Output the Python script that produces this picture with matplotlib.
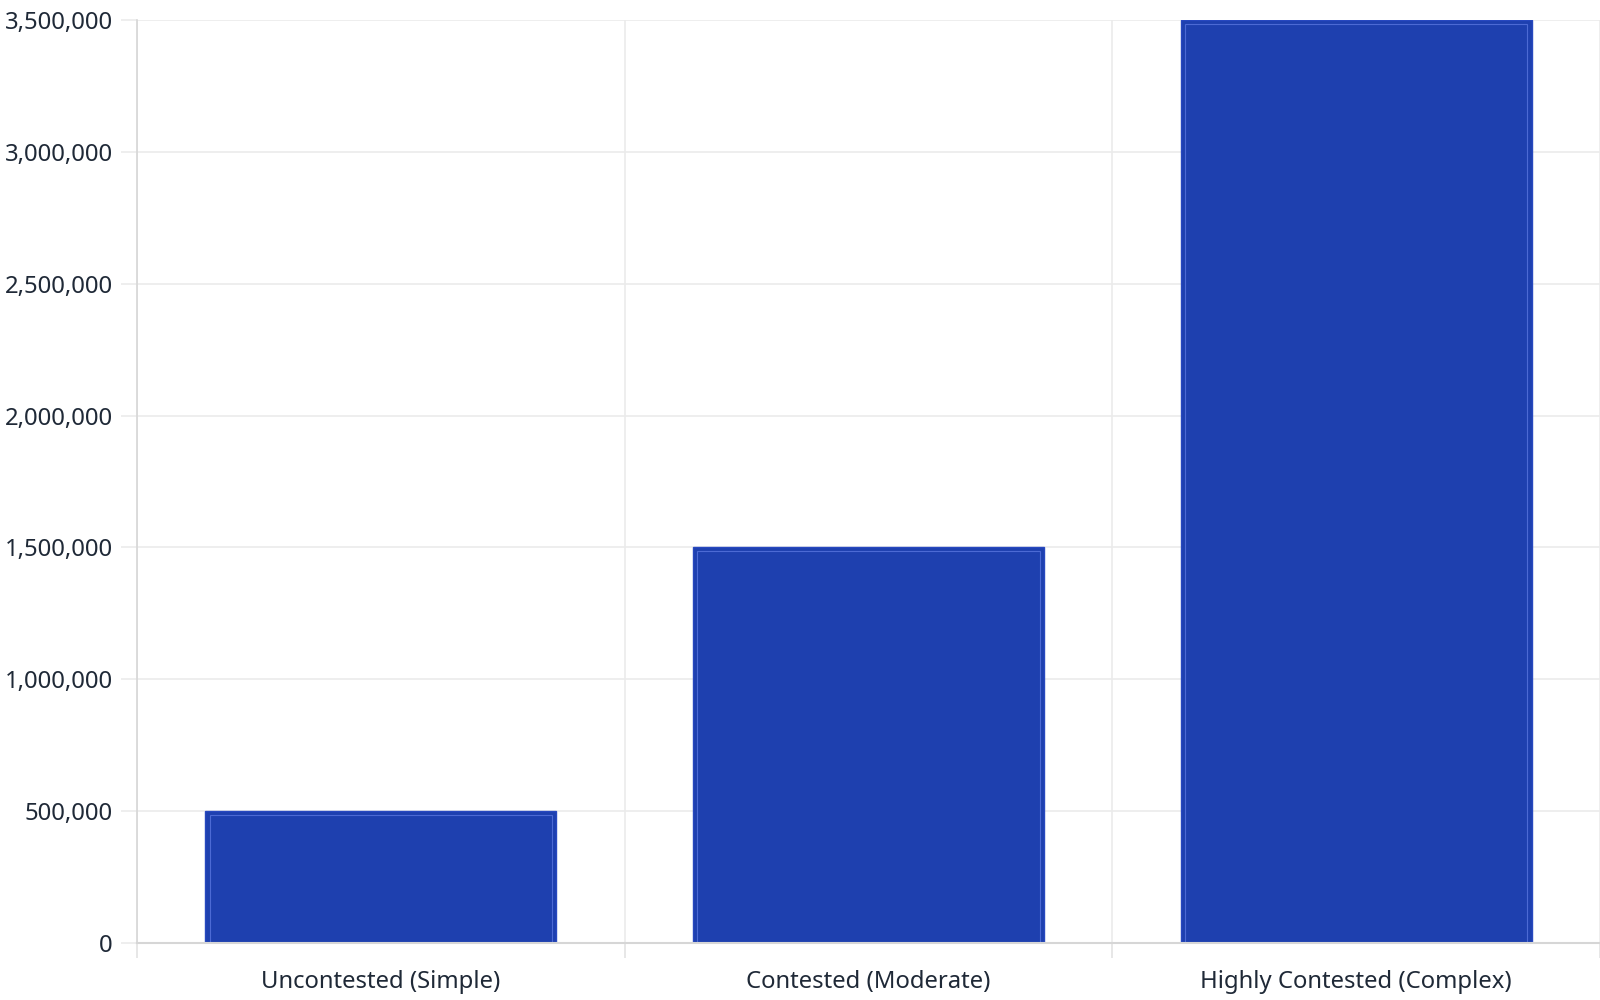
import matplotlib
matplotlib.use('Agg')
import matplotlib.pyplot as plt
from matplotlib.ticker import FuncFormatter, FixedLocator

categories = ['Uncontested (Simple)', 'Contested (Moderate)', 'Highly Contested (Complex)']
values = [500000, 1500000, 3500000]
y_ticks = [0, 500000, 1000000, 1500000, 2000000, 2500000, 3000000, 3500000]

plt.rcParams['font.family'] = ['Noto Sans', 'DejaVu Sans']

fig = plt.figure(figsize=(16, 10), dpi=100)
ax = fig.add_axes([0.0856, 0.057, 0.9144, 0.923])

x = list(range(len(categories)))
bar_w = 0.72
ax.bar(x, values, width=bar_w, color='#1e40af', edgecolor='#2748bf', linewidth=1.0, zorder=3)
# thin lighter inner outline
ax.bar(x, [v - 15000 for v in values], width=bar_w - 0.018, facecolor='none',
       edgecolor='#4c6ad4', linewidth=0.8, zorder=4)

ax.set_xlim(-0.5, 2.5)
ax.set_ylim(0, 3500000)
ax.set_yticks(y_ticks)
ax.yaxis.set_major_formatter(FuncFormatter(lambda v, p: f'{int(v):,}'))

ax.set_xticks(x)
ax.set_xticklabels(categories)
ax.xaxis.set_minor_locator(FixedLocator([-0.5, 0.5, 1.5, 2.5]))

ax.grid(axis='y', which='major', color='#ebebeb', linewidth=1.2, zorder=0)
ax.grid(axis='x', which='minor', color='#ebebeb', linewidth=1.2, zorder=0)

ax.tick_params(axis='x', which='major', length=0, pad=19.5, labelsize=17.2, labelcolor='#1f2937')
ax.tick_params(axis='x', which='minor', length=11, color='#e3e3e3', width=1.2)
ax.tick_params(axis='y', length=11.5, color='#ebebeb', width=1.2, pad=6, labelsize=17.2, labelcolor='#1f2937')

for s in ['top', 'right']:
    ax.spines[s].set_visible(False)
ax.spines['left'].set_color('#d6d6d6')
ax.spines['bottom'].set_color('#d6d6d6')
ax.spines['left'].set_linewidth(1.2)
ax.spines['bottom'].set_linewidth(1.5)
ax.spines['bottom'].set_zorder(5)

fig.savefig('out.png', dpi=100, facecolor='white')
